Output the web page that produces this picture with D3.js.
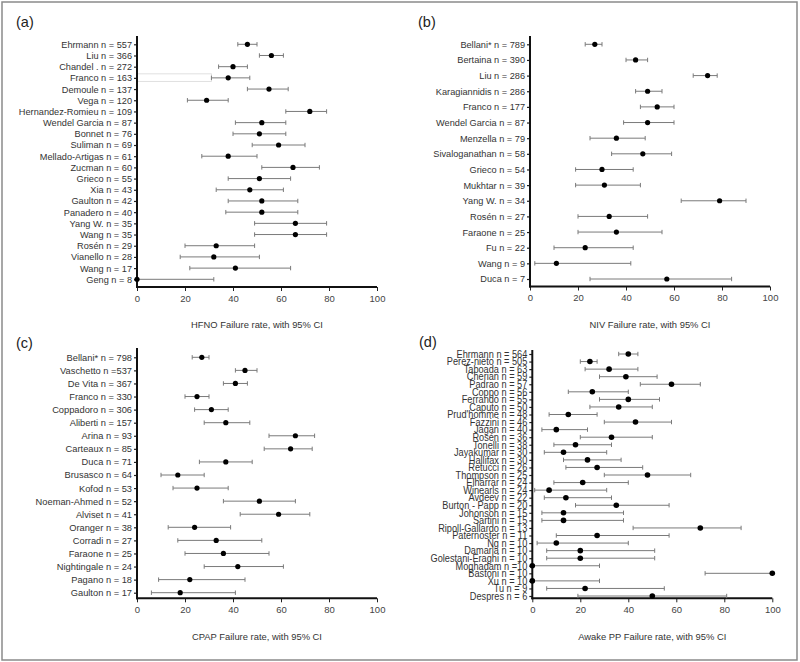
<!DOCTYPE html>
<html lang="en">
<head>
    <meta charset="UTF-8">
    <title>Failure rates with 95% CI</title>
    <script src="https://cdnjs.cloudflare.com/ajax/libs/d3/7.8.5/d3.min.js"></script>
    <style>
        body { margin: 0; background: #fff; }
        svg { font-family: 'Liberation Sans', Arial, sans-serif; display: block; }
    </style>
</head>
<body>
<div id="chart"></div>

<script>

    // x axis ticks shared by all four panels
    const xTicks = [0, 20, 40, 60, 80, 100];

    // (a) HFNO
    const hfnoStudies = ['Ehrmann n = 557', 'Liu n = 366', 'Chandel . n = 272', 'Franco n = 163', 'Demoule n = 137',
        'Vega n = 120', 'Hernandez-Romieu n = 109', 'Wendel Garcia n = 87', 'Bonnet n = 76', 'Suliman n = 69',
        'Mellado-Artigas n = 61', 'Zucman n = 60', 'Grieco n = 55', 'Xia n = 43', 'Gaulton n = 42',
        'Panadero n = 40', 'Yang W. n = 35', 'Wang n = 35', 'Rosén n = 29', 'Vianello n = 28',
        'Wang n = 17', 'Geng n = 8'];
    const hfnoRate = [46, 56, 40, 38, 55, 29, 72, 52, 51, 59, 38, 65, 51, 47, 52, 52, 66, 66, 33, 32, 41, 0];
    const hfnoLow  = [42, 51, 34, 31, 46, 21, 62, 41, 40, 48, 27, 52, 38, 33, 38, 37, 49, 49, 20, 18, 22, 0];
    const hfnoHigh = [50, 61, 46, 47, 63, 38, 79, 62, 62, 70, 50, 76, 64, 61, 67, 67, 79, 79, 49, 51, 64, 32];

    // (b) NIV
    const nivStudies = ['Bellani* n = 789', 'Bertaina n = 390', 'Liu n = 286', 'Karagiannidis n = 286',
        'Franco n = 177', 'Wendel Garcia n = 87', 'Menzella n = 79', 'Sivaloganathan  n = 58', 'Grieco n = 54',
        'Mukhtar n = 39', 'Yang W. n = 34', 'Rosén n = 27', 'Faraone n = 25', 'Fu  n = 22', 'Wang n = 9',
        'Duca n = 7'];
    const nivRate = [27, 44, 74, 49, 53, 49, 36, 47, 30, 31, 79, 33, 36, 23, 11, 57];
    const nivLow  = [23, 40, 68, 44, 46, 39, 25, 34, 19, 19, 63, 20, 20, 10, 2, 25];
    const nivHigh = [30, 49, 78, 55, 60, 60, 48, 59, 43, 46, 90, 49, 55, 43, 42, 84];

    // (c) CPAP
    const cpapStudies = ['Bellani* n = 798', 'Vaschetto n =537', 'De Vita n = 367', 'Franco n = 330',
        'Coppadoro n = 306', 'Aliberti n = 157', 'Arina n = 93', 'Carteaux n = 85', 'Duca n = 71',
        'Brusasco n = 64', 'Kofod n = 53', 'Noeman-Ahmed  n = 52', 'Alviset n = 41', 'Oranger n = 38',
        'Corradi n = 27', 'Faraone n = 25', 'Nightingale  n = 24', 'Pagano n = 18', 'Gaulton n = 17'];
    const cpapRate = [27, 45, 41, 25, 31, 37, 66, 64, 37, 17, 25, 51, 59, 24, 33, 36, 42, 22, 18];
    const cpapLow  = [23, 41, 36, 20, 24, 28, 55, 53, 26, 10, 15, 36, 43, 13, 17, 20, 28, 9, 6];
    const cpapHigh = [30, 50, 46, 30, 38, 47, 74, 73, 48, 28, 38, 66, 72, 39, 52, 55, 61, 45, 41];

    // (d) Awake prone positioning
    const ppStudies = ['Ehrmann n = 564', 'Perez-nieto n = 505', 'Taboada n = 63', 'Cherian n = 59',
        'Padrao n = 57', 'Coppo n = 56', 'Ferrando n = 55', 'Caputo n = 50', "Prud'homme n = 48",
        'Fazzini n = 46', 'Jagan n = 40', 'Rosén n = 36', 'Tonelli n = 38', 'Jayakumar n = 30',
        'Hallifax n = 30', 'Retucci n = 26', 'Thompson n = 25', 'Elharrar n = 24', 'Winearls n = 24',
        'Avdeev n = 22', 'Burton - Papp n = 20', 'Johonson n = 15', 'Sartini n = 15',
        'Ripoll-Gallardo n = 13', 'Paternoster n = 11', 'Ng n = 10', 'Damarla n = 10',
        'Golestani-Eraghi n = 10', 'Moghadam n =10', 'Bastoni n = 10', 'Xu n = 10', 'Tu n = 9',
        'Despres n = 6'];
    const ppRate = [40, 24, 32, 39, 58, 25, 40, 36, 15, 43, 10, 33, 18, 13, 23, 27, 48, 21, 7,
        14, 35, 13, 13, 70, 27, 10, 20, 20, 0, 100, 0, 22, 50];
    const ppLow  = [36, 20, 22, 28, 45, 15, 28, 24, 7, 30, 4, 20, 9, 5, 13, 14, 30, 9, 1,
        5, 18, 4, 4, 42, 10, 2, 6, 6, 0, 72, 0, 6, 19];
    const ppHigh = [44, 27, 44, 52, 70, 40, 53, 50, 27, 58, 23, 50, 33, 31, 37, 46, 66, 40, 31,
        33, 57, 38, 38, 87, 57, 40, 51, 51, 28, 100, 28, 55, 81];

    const width = 800;
    const height = 662;

    const svg = d3.select('#chart')
        .append('svg')
        .attr('width', width)
        .attr('height', height);

    // outer frame
    svg.append('rect')
        .attr('x', 2).attr('y', 2)
        .attr('width', 795).attr('height', 658)
        .attr('fill', 'none')
        .attr('stroke', '#8a8a8a')
        .attr('stroke-width', 1.5);

    const panels = [
        { tag: '(a)', title: 'HFNO Failure rate, with 95% CI', studies: hfnoStudies, rate: hfnoRate, low: hfnoLow, high: hfnoHigh,
          x0: 137, x1: 377, top: 36, axisY: 287, first: 44.3, last: 279.3, tagX: 16, tagY: 27, titleY: 327.5, fs: 9.2, stretch: 1 },
        { tag: '(b)', title: 'NIV Failure rate, with 95% CI', studies: nivStudies, rate: nivRate, low: nivLow, high: nivHigh,
          x0: 530, x1: 770, top: 36, axisY: 286.5, first: 44.3, last: 279, tagX: 418, tagY: 27, titleY: 327.5, fs: 9.2, stretch: 1 },
        { tag: '(c)', title: 'CPAP Failure rate, with 95% CI', studies: cpapStudies, rate: cpapRate, low: cpapLow, high: cpapHigh,
          x0: 137, x1: 377, top: 348, axisY: 598.3, first: 357.3, last: 592.7, tagX: 16, tagY: 347.5, titleY: 640, fs: 9.3, stretch: 1 },
        { tag: '(d)', title: 'Awake  PP Failure rate, with 95% CI', studies: ppStudies, rate: ppRate, low: ppLow, high: ppHigh,
          x0: 532.3, x1: 772.3, top: 350, axisY: 598.3, first: 354, last: 596, tagX: 419, tagY: 347, titleY: 640, fs: 9.2, stretch: 1.1 }
    ];

    const drawPanel = (p) => {
        const g = svg.append('g');

        const x = d3.scaleLinear().domain([0, 100]).range([p.x0, p.x1]);
        const y = d3.scalePoint().domain(p.studies).range([p.first, p.last]);

        const rows = p.studies.map((s, i) => ({ name: s, rate: p.rate[i], low: p.low[i], high: p.high[i] }));

        // faint leftover box seen on the Franco row of panel (a)
        if (p.tag === '(a)') {
            const f = rows[3];
            g.append('rect')
                .attr('x', x(0)).attr('y', y(f.name) - 4)
                .attr('width', x(f.low) - x(0)).attr('height', 7.5)
                .attr('fill', 'none')
                .attr('stroke', '#d8d8d8')
                .attr('stroke-width', 0.8);
        }

        // y axis with study labels
        const yAxis = g.append('g')
            .attr('transform', `translate(${p.x0},0)`)
            .call(d3.axisLeft(y).tickSize(3).tickSizeOuter(0).tickPadding(2));
        yAxis.select('.domain').remove();
        yAxis.selectAll('line').attr('stroke', '#222').attr('stroke-width', 1.2);
        yAxis.selectAll('text')
            .attr('fill', '#333')
            .attr('font-size', p.fs)
            .attr('transform', `scale(1,${p.stretch})`);

        // x axis
        const xAxis = g.append('g')
            .attr('transform', `translate(0,${p.axisY})`)
            .call(d3.axisBottom(x).tickValues(xTicks).tickSize(4).tickSizeOuter(0).tickPadding(4));
        xAxis.select('.domain').remove();
        xAxis.selectAll('line').attr('stroke', '#222').attr('stroke-width', 1);
        xAxis.selectAll('text').attr('fill', '#444').attr('font-size', 9.5);

        // axis lines, heavier than the ticks
        g.append('line')
            .attr('x1', p.x0).attr('x2', p.x0)
            .attr('y1', p.top).attr('y2', p.axisY + 1)
            .attr('stroke', '#111').attr('stroke-width', 2);
        g.append('line')
            .attr('x1', p.x0 - 1).attr('x2', p.x1)
            .attr('y1', p.axisY).attr('y2', p.axisY)
            .attr('stroke', '#111').attr('stroke-width', 2);

        // confidence intervals
        const ci = g.append('g').attr('stroke', '#7a7a7a').attr('stroke-width', 1);
        ci.selectAll('.ci')
            .data(rows)
            .enter()
            .append('line')
            .attr('x1', d => x(d.low)).attr('x2', d => x(d.high))
            .attr('y1', d => y(d.name)).attr('y2', d => y(d.name));
        ci.selectAll('.capL')
            .data(rows)
            .enter()
            .append('line')
            .attr('x1', d => x(d.low)).attr('x2', d => x(d.low))
            .attr('y1', d => y(d.name) - 2.2).attr('y2', d => y(d.name) + 2.2);
        ci.selectAll('.capH')
            .data(rows)
            .enter()
            .append('line')
            .attr('x1', d => x(d.high)).attr('x2', d => x(d.high))
            .attr('y1', d => y(d.name) - 2.2).attr('y2', d => y(d.name) + 2.2);

        // point estimates
        g.selectAll('.dot')
            .data(rows)
            .enter()
            .append('circle')
            .attr('cx', d => x(d.rate))
            .attr('cy', d => y(d.name))
            .attr('r', p.tag === '(d)' ? 2.8 : 2.6)
            .attr('fill', '#000');

        // panel tag and axis title
        g.append('text')
            .attr('x', p.tagX).attr('y', p.tagY)
            .attr('font-size', 14.5)
            .attr('fill', '#222')
            .text(p.tag);
        g.append('text')
            .attr('x', (p.x0 + p.x1) / 2).attr('y', p.titleY)
            .attr('text-anchor', 'middle')
            .attr('font-size', 9.4)
            .attr('fill', '#333')
            .text(p.title);
    };

    panels.forEach(drawPanel);

</script>
</body>
</html>
